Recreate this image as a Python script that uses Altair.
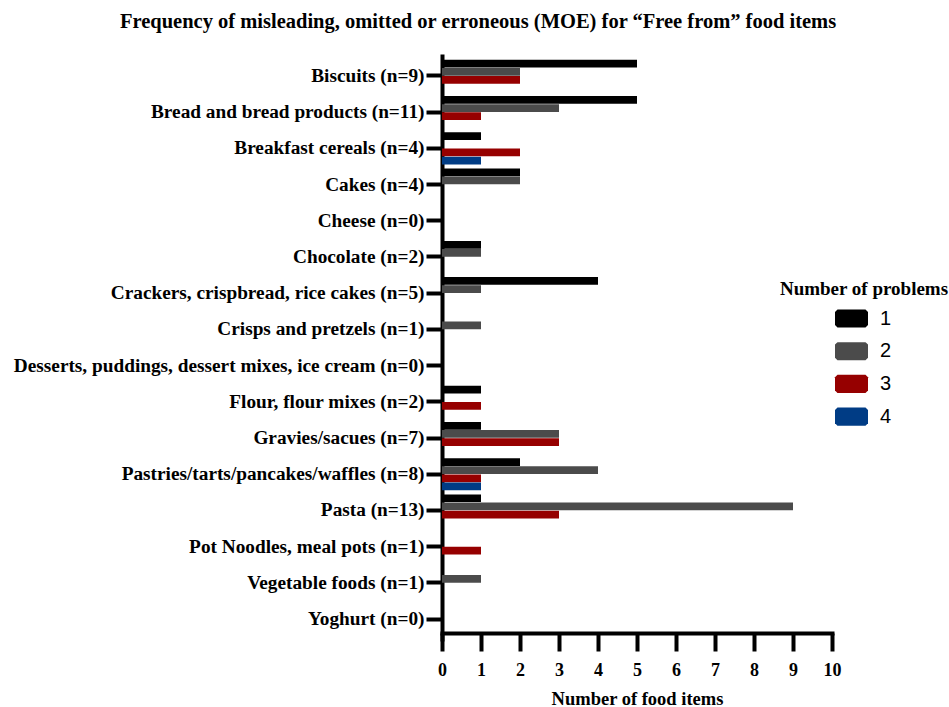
import altair as alt
import pandas as pd

categories = [
    "Biscuits (n=9)",
    "Bread and bread products (n=11)",
    "Breakfast cereals (n=4)",
    "Cakes (n=4)",
    "Cheese (n=0)",
    "Chocolate (n=2)",
    "Crackers, crispbread, rice cakes (n=5)",
    "Crisps and pretzels (n=1)",
    "Desserts, puddings, dessert mixes, ice cream (n=0)",
    "Flour, flour mixes (n=2)",
    "Gravies/sacues (n=7)",
    "Pastries/tarts/pancakes/waffles (n=8)",
    "Pasta (n=13)",
    "Pot Noodles, meal pots (n=1)",
    "Vegetable foods (n=1)",
    "Yoghurt (n=0)",
]
problems = ["1", "2", "3", "4"]
p1 = [5, 5, 1, 2, 0, 1, 4, 0, 0, 1, 1, 2, 1, 0, 0, 0]
p2 = [2, 3, 0, 2, 0, 1, 1, 1, 0, 0, 3, 4, 9, 0, 1, 0]
p3 = [2, 1, 2, 0, 0, 0, 0, 0, 0, 1, 3, 1, 3, 1, 0, 0]
p4 = [0, 0, 1, 0, 0, 0, 0, 0, 0, 0, 0, 1, 0, 0, 0, 0]
colors = ["#000000", "#4b4b4b", "#960000", "#003c85"]
x_ticks = list(range(0, 11))

rows = []
for i, c in enumerate(categories):
    for k, s in zip(problems, [p1, p2, p3, p4]):
        if s[i] > 0:
            rows.append({"cat": c, "prob": k, "val": s[i]})
df = pd.DataFrame(rows)

SERIF = "Liberation Serif"
SANS = "Liberation Sans"

bars = alt.Chart(df).mark_bar(cornerRadius=0).encode(
    x=alt.X(
        "val:Q",
        scale=alt.Scale(domain=[0, 10], nice=False),
        axis=alt.Axis(
            values=x_ticks, title="Number of food items", grid=False, offset=-6,
            domainWidth=4, domainColor="black", domainCap="square",
            tickWidth=4, tickSize=18, tickColor="black",
            labelFont=SERIF, labelFontSize=18, labelFontWeight="bold", labelColor="black",
            labelPadding=10, labelFlush=False,
            titleFont=SERIF, titleFontSize=18.5, titleFontWeight="bold", titleColor="black",
            titlePadding=10,
        ),
    ),
    y=alt.Y(
        "cat:N",
        sort=categories,
        scale=alt.Scale(domain=categories, paddingInner=0, paddingOuter=0.05),
        axis=alt.Axis(
            title=None, domainWidth=4, domainColor="black", domainCap="square",
            tickWidth=4, tickSize=16, tickColor="black",
            labelFont=SERIF, labelFontSize=19.3, labelFontWeight="bold", labelColor="black",
            labelPadding=2, labelLimit=0,
        ),
    ),
    yOffset=alt.YOffset(
        "prob:N",
        scale=alt.Scale(domain=problems, paddingInner=0.05, paddingOuter=0.25),
    ),
    color=alt.Color(
        "prob:N",
        scale=alt.Scale(domain=problems, range=colors),
        legend=alt.Legend(
            title=None, orient="none", legendX=393, legendY=246,
            symbolType="M-0.85,-0.55 L0.85,-0.55 L1,-0.4 L1,0.4 L0.85,0.55 L-0.85,0.55 L-1,0.4 L-1,-0.4 Z",
            symbolSize=1089, symbolStrokeWidth=0, symbolOpacity=1,
            labelFont=SANS, labelFontSize=20, labelColor="black", labelOffset=12,
            rowPadding=5.7, padding=0,
        ),
    ),
)

legend_title = alt.Chart(pd.DataFrame({"t": ["Number of problems"]})).mark_text(
    font=SERIF, fontSize=19, fontWeight="bold", color="black", align="center", baseline="middle"
).encode(x=alt.value(422), y=alt.value(233), text="t:N")

chart = alt.layer(bars, legend_title).properties(
    width=390,
    height=583,
    padding={"left": 442, "top": 56, "right": 117, "bottom": 68},
    autosize=alt.AutoSizeParams(type="none"),
    title=alt.TitleParams(
        "Frequency of misleading, omitted or erroneous (MOE) for \u201cFree from\u201d food items",
        font=SERIF, fontSize=20.5, fontWeight="bold", color="black",
        anchor="middle", dx=-159, offset=24,
    ),
).configure_view(stroke=None)

chart.save("out.html", embed_options={"renderer": "svg", "actions": False})
